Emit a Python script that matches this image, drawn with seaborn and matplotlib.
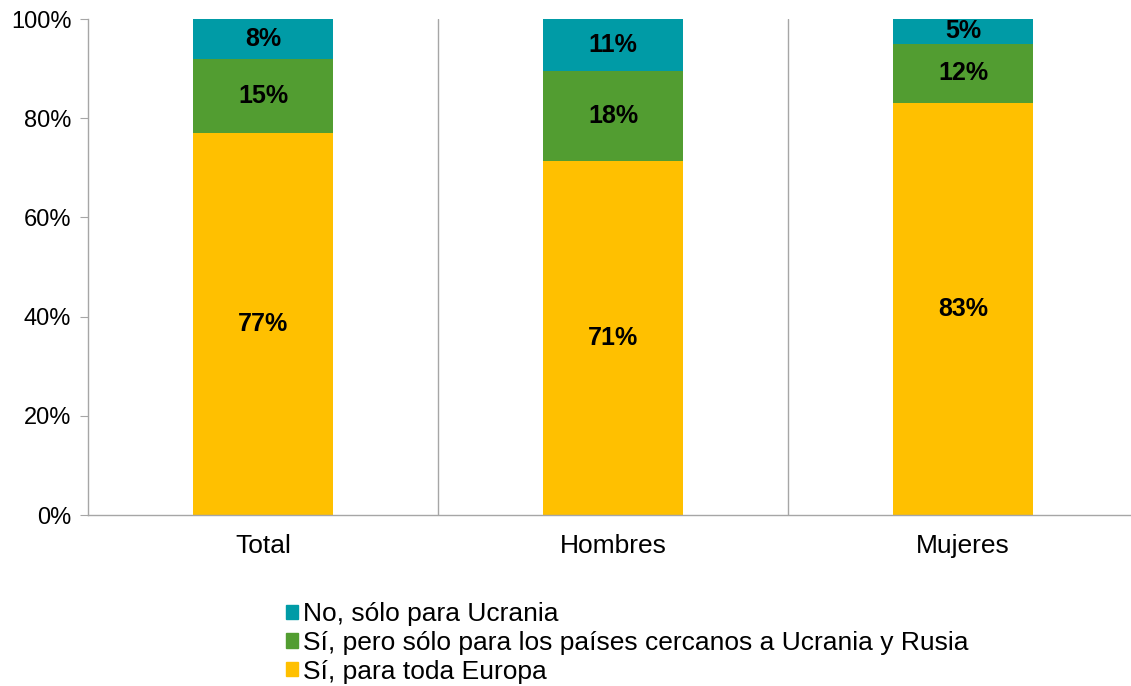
import numpy as np
import pandas as pd
import matplotlib.pyplot as plt
import seaborn as sns
from matplotlib.patches import Patch

# data
grupos = ["Total", "Hombres", "Mujeres"]
toda_europa = [77.0, 71.4, 83.1]
cercanos = [14.9, 18.1, 11.9]
solo_ucrania = [8.1, 10.5, 5.0]
etiquetas_europa = ["77%", "71%", "83%"]
etiquetas_cercanos = ["15%", "18%", "12%"]
etiquetas_ucrania = ["8%", "11%", "5%"]
series = ["No, sólo para Ucrania",
          "Sí, pero sólo para los países cercanos a Ucrania y Rusia",
          "Sí, para toda Europa"]

c_azul = "#009BA6"
c_verde = "#529D31"
c_amarillo = "#FFC000"
gris = "#A6A6A6"

sns.set_style("white")
plt.rcParams['font.family'] = ['Liberation Sans', 'DejaVu Sans']
plt.rcParams['text.color'] = 'black'
plt.rcParams['xtick.color'] = 'black'
plt.rcParams['ytick.color'] = 'black'

df = pd.DataFrame({"grupo": grupos, "europa": toda_europa,
                   "cercanos": cercanos, "ucrania": solo_ucrania})
df["nivel2"] = df["europa"] + df["cercanos"]
df["nivel3"] = df["nivel2"] + df["ucrania"]

fig = plt.figure(figsize=(11.31, 6.86), dpi=100)
ax = fig.add_axes([88 / 1131, (686 - 515) / 686, 1050 / 1131, 496 / 686])

# stacked bars drawn as overlapping cumulative bars
for col, c in [("nivel3", c_azul), ("nivel2", c_verde), ("europa", c_amarillo)]:
    sns.barplot(data=df, x="grupo", y=col, color=c, width=0.4,
                saturation=1, linewidth=0, ax=ax)

for i in range(len(grupos)):
    ax.text(i, df["europa"][i] / 2, etiquetas_europa[i], ha="center", va="center",
            fontsize=18, fontweight="bold")
    ax.text(i, df["europa"][i] + df["cercanos"][i] / 2, etiquetas_cercanos[i],
            ha="center", va="center", fontsize=18, fontweight="bold")
    ax.text(i, df["nivel2"][i] + df["ucrania"][i] / 2, etiquetas_ucrania[i],
            ha="center", va="center", fontsize=18, fontweight="bold")

ax.set_ylim(0, 100)
ax.set_xlim(-0.5, 2.5)
ax.set_yticks(np.arange(0, 101, 20))
ax.set_yticklabels([f"{v}%" for v in range(0, 101, 20)], fontsize=17)
ax.set_xticks(range(3))
ax.set_xticklabels(grupos, fontsize=19)
ax.set_xticks([-0.5, 0.5, 1.5, 2.5], minor=True)
ax.tick_params(axis="x", which="major", length=0, pad=14)
ax.tick_params(axis="x", which="minor", length=6, color=gris, direction="out")
ax.tick_params(axis="y", length=6, color=gris, direction="out", left=True, pad=6)
for x in [0.5, 1.5]:
    ax.axvline(x, color=gris, lw=1, zorder=0)
ax.set_xlabel("")
ax.set_ylabel("")
for s in ["top", "right"]:
    ax.spines[s].set_visible(False)
for s in ["left", "bottom"]:
    ax.spines[s].set_color(gris)
    ax.spines[s].set_linewidth(1)

handles = [Patch(color=c_azul), Patch(color=c_verde), Patch(color=c_amarillo)]
fig.legend(handles, series, loc="upper left", bbox_to_anchor=(273 / 1131, 1 - 589 / 686),
           frameon=False, fontsize=19, handlelength=0.45, handleheight=0.45,
           handletextpad=0.2, labelspacing=0.18, borderpad=0)

fig.savefig("out.png", dpi=100)
